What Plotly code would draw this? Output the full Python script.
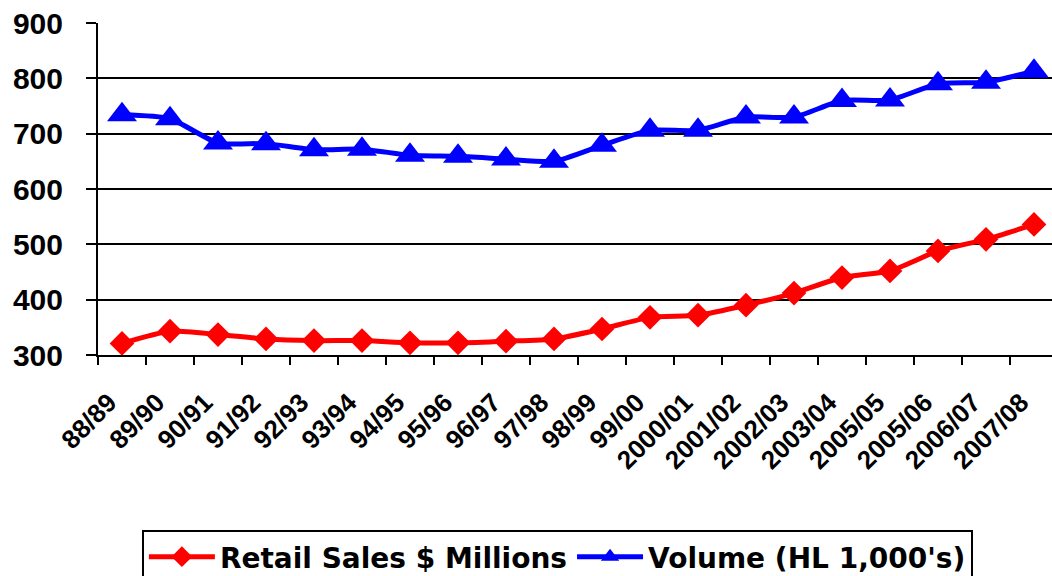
import plotly.graph_objects as go

categories = ["88/89", "89/90", "90/91", "91/92", "92/93", "93/94", "94/95", "95/96",
              "96/97", "97/98", "98/99", "99/00", "2000/01", "2001/02", "2002/03",
              "2003/04", "2005/05", "2005/06", "2006/07", "2007/08"]
retail_sales = [321, 343, 337, 329, 326, 326, 322, 322, 325, 329, 347, 368,
                372, 390, 412, 440, 452, 488, 509, 536]
volume = [734, 727, 683, 682, 671, 672, 661, 659, 654, 650, 679, 706,
          706, 730, 730, 760, 761, 790, 793, 813]

ARIAL = "Liberation Sans"

fig = go.Figure()
fig.add_trace(go.Scatter(
    x=categories, y=retail_sales, name="Retail Sales $ Millions",
    mode="lines+markers",
    line=dict(color="#FF0000", width=5, shape="spline", smoothing=0.6),
    marker=dict(symbol="diamond", size=19, color="#FF0000"),
))
fig.add_trace(go.Scatter(
    x=categories, y=volume, name="Volume (HL 1,000's)",
    mode="lines+markers",
    line=dict(color="#0000FF", width=5, shape="spline", smoothing=0.6),
    marker=dict(symbol="triangle-up", size=26, color="#0000FF"),
))

fig.update_layout(
    width=1052, height=576,
    margin=dict(l=98, r=0, t=23, b=221, autoexpand=False),
    paper_bgcolor="white", plot_bgcolor="white",
    showlegend=True,
    legend=dict(
        orientation="h", x=0.046, xanchor="left", y=-0.527, yanchor="top",
        bordercolor="black", borderwidth=2, bgcolor="white",
        font=dict(family="DejaVu Sans", size=28, color="black", weight="bold"),
        itemwidth=66, tracegroupgap=0,
    ),
    xaxis=dict(
        type="category", range=[-0.5, 19.375],
        tickangle=-45, tickson="boundaries",
        ticks="outside", ticklen=8, tickwidth=2, tickcolor="black",
        tickfont=dict(family=ARIAL, size=26, color="black", weight="bold"),
        showline=True, linecolor="black", linewidth=2,
        showgrid=False, zeroline=False, ticklabelstandoff=20,
        ticklabelshift=-13, automargin=False,
    ),
    yaxis=dict(
        range=[300, 900], dtick=100, tick0=300,
        ticks="outside", ticklen=10, tickwidth=2, tickcolor="black",
        tickfont=dict(family=ARIAL, size=30, color="black", weight="bold"),
        showline=True, linecolor="black", linewidth=2,
        showgrid=True, gridcolor="black", gridwidth=2,
        zeroline=False, ticklabelstandoff=17, automargin=False,
    ),
)

fig.write_html("out.html")
